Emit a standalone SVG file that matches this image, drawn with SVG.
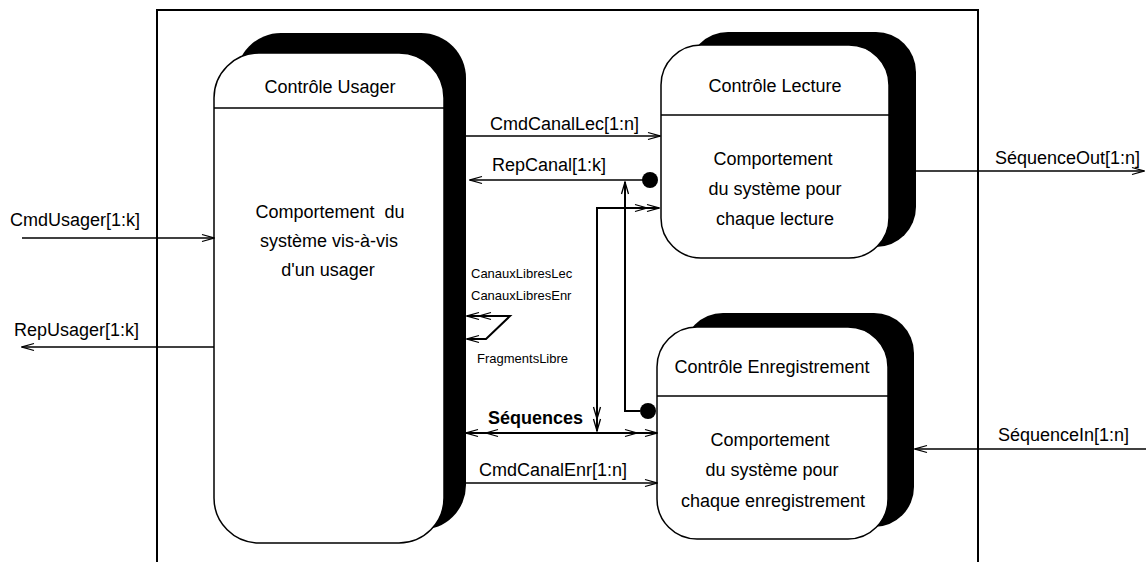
<svg xmlns="http://www.w3.org/2000/svg" width="1146" height="562" viewBox="0 0 1146 562">
  <style>
    text { font-family: "Liberation Sans", Arial, sans-serif; fill: #000; }
    .t18 { font-size: 18px; }
    .t13 { font-size: 13px; }
    .bold { font-weight: bold; }
    .mid { text-anchor: middle; }
    .shadow { fill: #000; stroke: none; }
    .box { fill: #fff; stroke: #000; stroke-width: 1.5; }
    .div { stroke: #000; stroke-width: 1.3; }
    .flow { fill: none; stroke: #000; stroke-width: 1.3; }
    .bus { fill: none; stroke: #000; stroke-width: 2; }
  </style>
  <defs>
    <marker id="arr" viewBox="0 0 14 10" refX="13" refY="5" markerWidth="14" markerHeight="10" markerUnits="userSpaceOnUse" orient="auto-start-reverse">
      <path d="M1,1.5 L13,5 L1,8.5" fill="none" stroke="#000" stroke-width="1.3"/>
    </marker>
    <marker id="dbl" viewBox="0 0 26 10" refX="25" refY="5" markerWidth="26" markerHeight="10" markerUnits="userSpaceOnUse" orient="auto-start-reverse">
      <path d="M1,1.5 L13,5 L1,8.5 M13,1.5 L25,5 L13,8.5" fill="none" stroke="#000" stroke-width="1.3"/>
    </marker>
    <marker id="dblw" viewBox="0 0 34 10" refX="33" refY="5" markerWidth="34" markerHeight="10" markerUnits="userSpaceOnUse" orient="auto-start-reverse">
      <path d="M1,1.5 L13,5 L1,8.5 M21,1.5 L33,5 L21,8.5" fill="none" stroke="#000" stroke-width="1.3"/>
    </marker>
  </defs>

  <rect width="1146" height="562" fill="#fff"/>

  <!-- system boundary -->
  <rect id="systeme" x="157" y="10" width="821" height="570" fill="none" stroke="#000" stroke-width="2"/>

  <!-- user control process -->
  <g id="controle-usager">
    <rect class="shadow" x="236" y="33" width="230" height="497" rx="45" ry="45"/>
    <rect class="box" x="214" y="53" width="230" height="490" rx="45" ry="45"/>
    <line class="div" x1="214" y1="108" x2="444" y2="108"/>
    <text class="t18 mid" x="330" y="93">Contrôle Usager</text>
    <text class="t18 mid" x="330" y="218" xml:space="preserve">Comportement  du</text>
    <text class="t18 mid" x="329" y="247">système vis-à-vis</text>
    <text class="t18 mid" x="328" y="276">d'un usager</text>
  </g>

  <!-- playback control process -->
  <g id="controle-lecture">
    <rect class="shadow" x="688" y="32" width="228" height="215" rx="40" ry="40"/>
    <rect class="box" x="661" y="45" width="228" height="213" rx="40" ry="40"/>
    <line class="div" x1="661" y1="115" x2="889" y2="115"/>
    <text class="t18 mid" x="775" y="92">Contrôle Lecture</text>
    <text class="t18 mid" x="773" y="165">Comportement</text>
    <text class="t18 mid" x="775" y="195">du système pour</text>
    <text class="t18 mid" x="775" y="225">chaque lecture</text>
  </g>

  <!-- recording control process -->
  <g id="controle-enregistrement">
    <rect class="shadow" x="683" y="313" width="231" height="214" rx="40" ry="40"/>
    <rect class="box" x="657" y="327" width="231" height="212" rx="40" ry="40"/>
    <line class="div" x1="657" y1="396" x2="888" y2="396"/>
    <text class="t18 mid" x="772" y="373">Contrôle Enregistrement</text>
    <text class="t18 mid" x="770" y="446">Comportement</text>
    <text class="t18 mid" x="772" y="476">du système pour</text>
    <text class="t18 mid" x="773" y="507">chaque enregistrement</text>
  </g>

  <!-- data and control flows -->
  <g id="connecteurs">
    <!-- external user flows -->
    <line class="flow" x1="22" y1="238" x2="214" y2="238" marker-end="url(#arr)"/>
    <text class="t18" x="10" y="226">CmdUsager[1:k]</text>
    <line class="flow" x1="214" y1="347" x2="22" y2="347" marker-end="url(#arr)"/>
    <text class="t18" x="14" y="336">RepUsager[1:k]</text>

    <!-- channel commands and replies -->
    <line class="flow" x1="466" y1="136" x2="660" y2="136" marker-end="url(#arr)"/>
    <text class="t18" x="490" y="130">CmdCanalLec[1:n]</text>
    <line class="flow" x1="650" y1="180" x2="470" y2="180" marker-end="url(#arr)"/>
    <circle cx="650" cy="180" r="8" fill="#000"/>
    <text class="t18" x="492" y="171">RepCanal[1:k]</text>
    <polyline class="bus" points="640,411 625,411 625,182" marker-end="url(#arr)"/>
    <circle cx="648" cy="411" r="8" fill="#000"/>
    <line class="flow" x1="466" y1="483" x2="657" y2="483" marker-end="url(#arr)"/>
    <text class="t18" x="479" y="476">CmdCanalEnr[1:n]</text>

    <!-- sequence bus -->
    <line class="bus" x1="466" y1="433" x2="657" y2="433" marker-start="url(#dblw)" marker-end="url(#dblw)"/>
    <polyline class="bus" points="659,208 597,208 597,431" marker-start="url(#dbl)" marker-end="url(#dbl)"/>
    <text class="t18 bold" x="488" y="424">Séquences</text>

    <!-- free resources self-loop -->
    <polyline class="bus" points="467,316 510,316 486,339 467,339" marker-start="url(#dbl)" marker-end="url(#arr)"/>
    <text class="t13" x="471" y="278">CanauxLibresLec</text>
    <text class="t13" x="471" y="300">CanauxLibresEnr</text>
    <text class="t13" x="477" y="363">FragmentsLibre</text>

    <!-- external sequence flows -->
    <line class="flow" x1="916" y1="171" x2="1144" y2="171" marker-end="url(#arr)"/>
    <text class="t18" x="995" y="164">SéquenceOut[1:n]</text>
    <line class="flow" x1="1146" y1="449" x2="915" y2="449" marker-end="url(#arr)"/>
    <text class="t18" x="998" y="441">SéquenceIn[1:n]</text>
  </g>
</svg>
